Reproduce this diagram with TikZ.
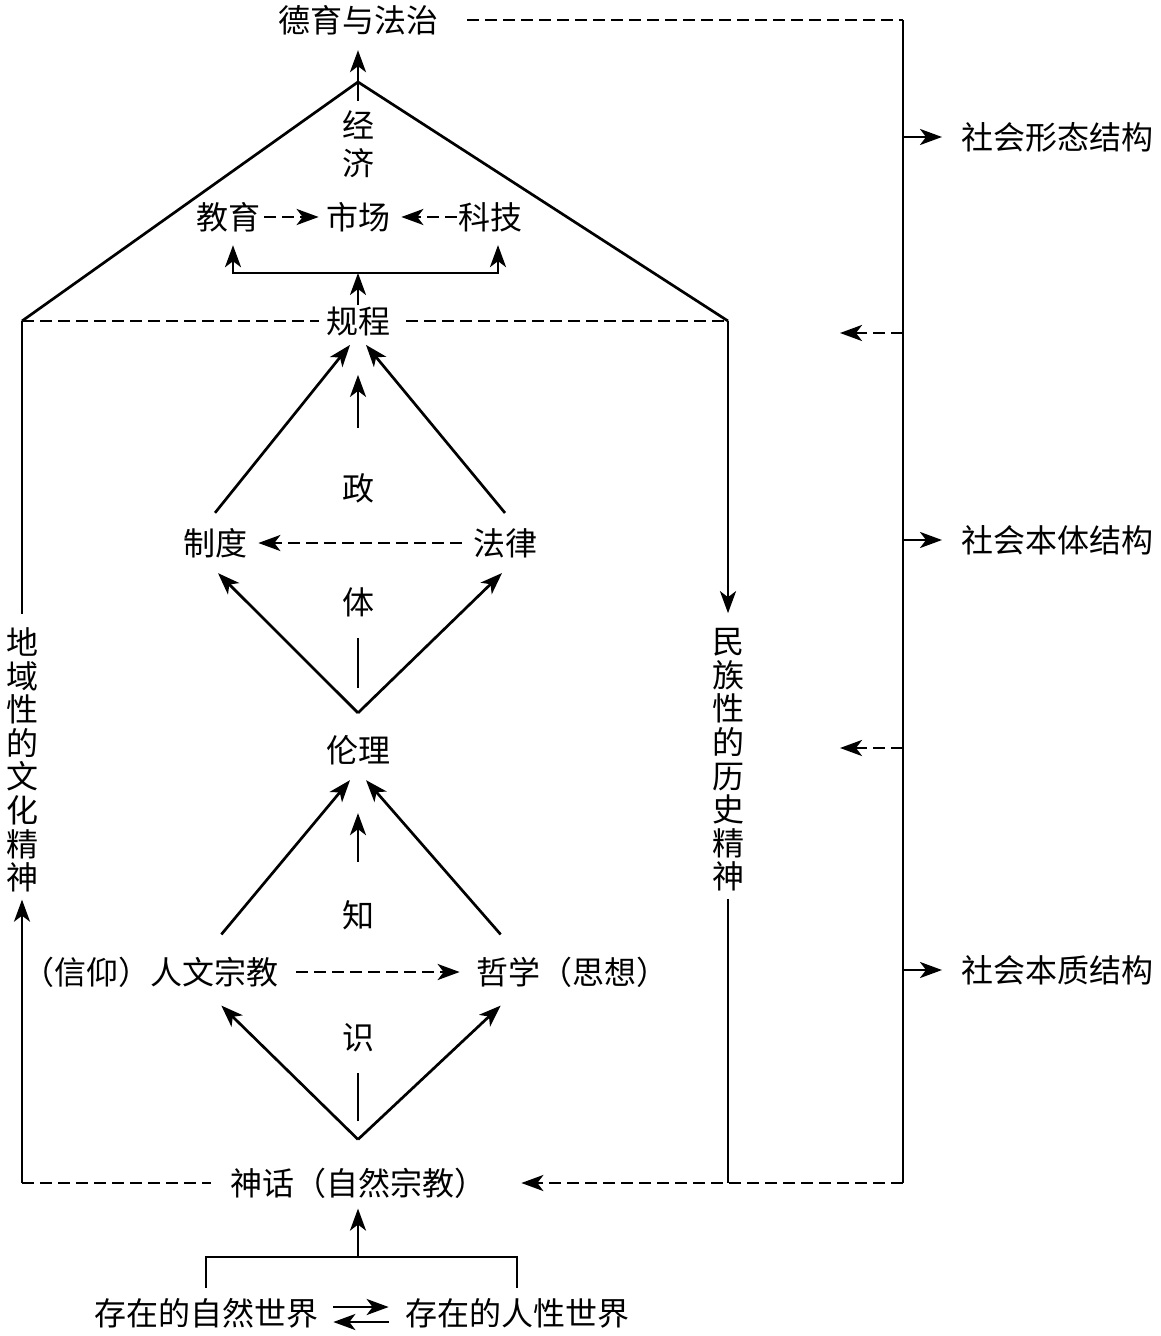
\documentclass[tikz,border=0pt]{standalone}
\usepackage{fontspec}
\setmainfont{Noto Sans CJK SC}
\usetikzlibrary{arrows.meta}

\begin{document}
\begin{tikzpicture}[x=0.5pt, y=-0.5pt, line width=1.35pt,
  every node/.style={font=\fontsize{16}{19}\selectfont, inner sep=0pt},
  arr/.style={-{Stealth[length=11pt, width=8pt, inset=3pt]}},
  dsh/.style={dash pattern=on 6pt off 3pt},
  vtext/.style={align=center, font=\fontsize{16}{16.8}\selectfont}]
\useasboundingbox (0,0) rectangle (1160,1336);

% Nodes
\node (moral) at (358,20) {德育与法治};
\node[align=center] (econ) at (358,144) {经\\济};
\node (edu) at (228,217) {教育};
\node (market) at (358,217) {市场};
\node (tech) at (490,217) {科技};
\node (rule) at (358,321) {规程};
\node (zheng) at (358,488) {政};
\node (system) at (215,543) {制度};
\node (law) at (505,543) {法律};
\node (ti) at (358,602) {体};
\node (ethic) at (358,750) {伦理};
\node (zhi) at (358,915) {知};
\node (religion) at (150,972) {（信仰）人文宗教};
\node (philo) at (572,972) {哲学（思想）};
\node (shi) at (358,1038) {识};
\node (myth) at (358,1183) {神话（自然宗教）};
\node (nature) at (206,1313) {存在的自然世界};
\node (human) at (517,1313) {存在的人性世界};
\node[vtext] (regional) at (22,760) {地\\域\\性\\的\\文\\化\\精\\神};
\node[vtext] (national) at (728,760) {民\\族\\性\\的\\历\\史\\精\\神};

% Frame
\coordinate (apex) at (358,82);
\coordinate (ltop) at (22,321);
\coordinate (rtop) at (728,321);
\coordinate (lbot) at (22,1183);
\coordinate (rbot) at (728,1183);
\coordinate (tr) at (903,20);
\coordinate (br) at (903,1183);
\draw (ltop) -- (apex) -- (rtop);
\draw[arr] ([yshift=4pt]econ.north) -- ([yshift=-7pt]moral.south);
\draw[dsh] (ltop) -- ([xshift=-3pt]rule.west);
\draw[dsh] ([xshift=7.5pt]rule.east) -- (rtop);
\draw (ltop) -- ([yshift=6pt]regional.north);
\draw[arr] (lbot) -- ([yshift=-3pt]regional.south);
\draw[arr] (rtop) -- ([yshift=7pt]national.north);
\draw ([yshift=-3pt]national.south) -- (rbot);
\draw[dsh] (lbot) -- ([xshift=-9pt]myth.west);

% Economy
\draw[dsh, arr] ([xshift=1.5pt]edu.east) -- ([xshift=-3pt]market.west);
\draw[dsh, arr] (tech.west) -- ([xshift=5pt]market.east);
\coordinate (fork) at (358,273);
\draw[arr] (rule.north) -- (fork);
\draw[arr] (fork) -| ([xshift=2.5pt, yshift=-6pt]edu.south);
\draw[arr] (fork) -| ([xshift=4pt, yshift=-6pt]tech.south);

% Politics
\draw[arr] ([yshift=7pt]system.north) -- ([xshift=-4pt, yshift=-4pt]rule.south);
\draw[arr] ([yshift=7pt]law.north) -- ([xshift=4pt, yshift=-4pt]rule.south);
\draw[arr] ([yshift=22pt]zheng.north) -- ([yshift=-19pt]rule.south);
\draw[dsh, arr] ([xshift=-5pt]law.west) -- ([xshift=5pt]system.east);
\draw[arr] ([yshift=10.5pt]ethic.north) -- ([xshift=1.5pt, yshift=-7pt]system.south);
\draw[arr] ([yshift=10.5pt]ethic.north) -- ([xshift=-1.5pt, yshift=-7pt]law.south);
\draw ([yshift=23pt]ethic.north) -- ([yshift=-10pt]ti.south);

% Knowledge
\draw[arr] ([xshift=-29pt, yshift=10.5pt]religion.north east) -- ([xshift=-4pt, yshift=-7pt]ethic.south);
\draw[arr] ([xshift=13pt, yshift=10.5pt]philo.north west) -- ([xshift=4pt, yshift=-7pt]ethic.south);
\draw[arr] ([yshift=18.5pt]zhi.north) -- ([yshift=-23.5pt]ethic.south);
\draw[dsh, arr] ([xshift=8.5pt]religion.east) -- ([xshift=-7.5pt]philo.west);
\draw[arr] ([yshift=13.5pt]myth.north) -- ([xshift=-29pt, yshift=-8.5pt]religion.south east);
\draw[arr] ([yshift=13.5pt]myth.north) -- ([xshift=13pt, yshift=-8.5pt]philo.south west);
\draw ([yshift=22.5pt]myth.north) -- ([yshift=-9.5pt]shi.south);

% Worlds
\coordinate (join) at (358,1257);
\draw ([yshift=4.5pt]nature.north) |- (join) -| ([yshift=4.5pt]human.north);
\draw[arr] (join) -- ([yshift=-4.5pt]myth.south);
\draw[arr] ([xshift=7pt, yshift=3pt]nature.east) -- ([xshift=-7.5pt, yshift=3pt]human.west);
\draw[arr] ([xshift=-7.5pt, yshift=-4.5pt]human.west) -- ([xshift=7pt, yshift=-4.5pt]nature.east);

% Structures
\node[anchor=west] (form) at (960,137) {社会形态结构};
\node[anchor=west] (body) at (960,540) {社会本体结构};
\node[anchor=west] (essence) at (960,970) {社会本质结构};
\coordinate (fb1) at (840,333);
\coordinate (fb2) at (840,748);
\draw[dsh] ([xshift=14pt]moral.east) -- (tr);
\draw (tr) -- (br);
\draw[dsh, arr] (br) -- ([xshift=17pt]myth.east);
\draw[arr] (tr |- form) -- ([xshift=-9pt]form.west);
\draw[arr] (tr |- body) -- ([xshift=-9pt]body.west);
\draw[arr] (tr |- essence) -- ([xshift=-9pt]essence.west);
\draw[dsh, arr] (tr |- fb1) -- (fb1);
\draw[dsh, arr] (tr |- fb2) -- (fb2);
\end{tikzpicture}
\end{document}
